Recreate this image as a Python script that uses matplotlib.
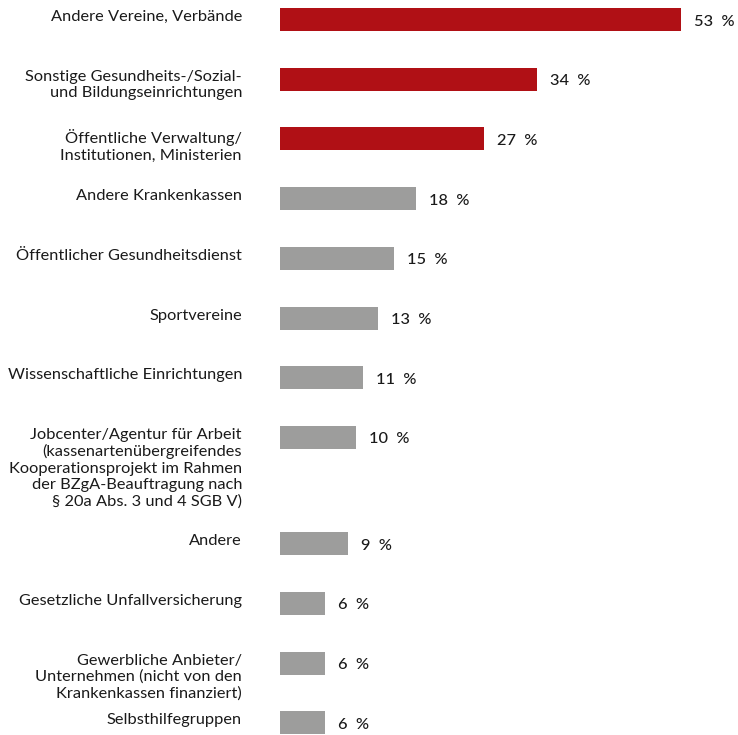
import matplotlib
matplotlib.use('Agg')
import matplotlib.pyplot as plt
import numpy as np

plt.rcParams.update({
    'font.family': ['Lato', 'DejaVu Sans'],
    'font.size': 11.8,
    'text.color': '#1a1a1a',
})

labels = [
    'Andere Vereine, Verbände',
    'Sonstige Gesundheits-/Sozial-\nund Bildungseinrichtungen',
    'Öffentliche Verwaltung/\nInstitutionen, Ministerien',
    'Andere Krankenkassen',
    'Öffentlicher Gesundheitsdienst',
    'Sportvereine',
    'Wissenschaftliche Einrichtungen',
    'Jobcenter/Agentur für Arbeit\n(kassenartenübergreifendes\nKooperationsprojekt im Rahmen\nder BZgA-Beauftragung nach\n§ 20a Abs. 3 und 4 SGB V)',
    'Andere',
    'Gesetzliche Unfallversicherung',
    'Gewerbliche Anbieter/\nUnternehmen (nicht von den\nKrankenkassen finanziert)',
    'Selbsthilfegruppen',
]
values = [53, 34, 27, 18, 15, 13, 11, 10, 9, 6, 6, 6]
highlight = [True, True, True, False, False, False, False, False, False, False, False, False]

RED = '#b01015'
GRAY = '#9d9d9c'

# row positions: long labels push the next row further down
pos = [0.0]
for lab in labels[:-1]:
    n = lab.count('\n') + 1
    pos.append(pos[-1] + 1.0 + 0.39 * max(0, n - 3))
pos = np.array(pos)

W, H = 738, 735
PITCH = 59.7          # pixels per row
PX_PER_UNIT = 7.57    # pixels per percent
X0 = 280              # left edge of the bars

fig = plt.figure(figsize=(W / 100, H / 100), dpi=100)
ax = fig.add_axes([X0 / W, 0, 1 - X0 / W, 1])
ax.set_xlim(0, (W - X0) / PX_PER_UNIT)
top = 19.5 / PITCH
ax.set_ylim(H / PITCH - top, -top)
ax.axis('off')

bar_h = 23 / PITCH
colors = [RED if h else GRAY for h in highlight]
ax.barh(pos, values, height=bar_h, color=colors, linewidth=0)

for y, v, lab in zip(pos, values, labels):
    ax.annotate(lab, xy=(0, y - bar_h / 2), xytext=(-38, -2),
                textcoords='offset pixels', ha='right', va='top',
                linespacing=1.2)
    ax.annotate(f'{v}  %', xy=(v, y), xytext=(13, -2),
                textcoords='offset pixels', ha='left', va='center',
                fontweight='medium')

fig.savefig('out.png', dpi=100, facecolor='white')
